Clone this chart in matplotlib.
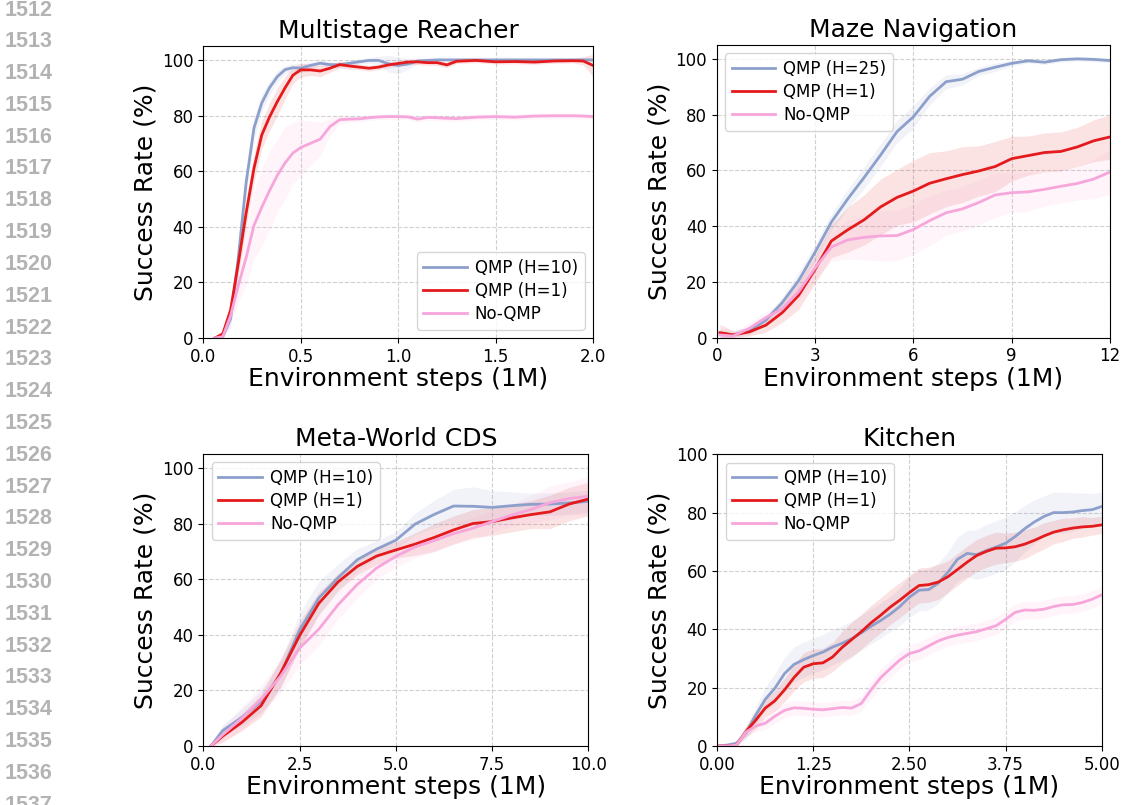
import numpy as np
import matplotlib.pyplot as plt

# colours of the three methods
C_LONG = '#8da0cb'
C_ONE = '#e41a1c'
C_NO = '#f7a6dc'

# ---------------- Multistage Reacher ----------------
reach_x = [0.06, 0.1, 0.14, 0.18, 0.22, 0.26, 0.3, 0.34, 0.38, 0.42, 0.46, 0.5,
           0.55, 0.6, 0.65, 0.7, 0.75, 0.8, 0.85, 0.9, 0.95, 1.0, 1.05, 1.1, 1.15,
           1.2, 1.25, 1.3, 1.4, 1.5, 1.6, 1.7, 1.8, 1.9, 1.95, 2.0]
reach_h10 = [0, 0.5, 7, 29, 56, 75.5, 84.5, 90, 94, 96.5, 97.2, 97, 98, 98.8, 98.3,
             98.2, 98.8, 99.3, 99.8, 99.8, 98.6, 98, 98.5, 99.6, 99.8, 100, 100, 100,
             100, 100, 100, 100, 100, 100, 100, 100]
reach_h10_sd = [0.5, 1, 3, 4, 4, 4, 3, 2.5, 2, 1.5, 1.5, 1.5, 1.2, 1, 1, 1, 1, 1, 1,
                1.5, 3, 3, 2, 1, 0.8, 0.5, 0.5, 0.5, 0.5, 0.5, 0.5, 0.5, 0.5, 0.5, 0.5, 0.5]
reach_h1 = [0, 1.5, 10, 27, 45, 61, 73, 79.5, 85, 90, 94.5, 96.4, 96.4, 96, 97, 98.3,
            97.8, 97.4, 97, 97.4, 98.2, 98.7, 99.2, 99.3, 99, 99, 98.2, 99.5, 99.8,
            99.3, 99.4, 99.2, 99.6, 99.7, 99.6, 98]
reach_h1_sd = [0.5, 1.5, 3, 4, 5, 5, 5, 5, 5, 4, 3, 2.5, 2, 2, 1.5, 1.2, 1.2, 1, 1,
               1, 1, 1, 1, 1, 1, 1, 1, 0.8, 0.8, 0.8, 0.8, 0.8, 0.8, 0.8, 1.5, 4]
reach_no = [0, 0.5, 8, 19, 29, 40.5, 47, 53, 58.5, 63, 66.5, 68.5, 70, 71.5, 76, 78.5,
            78.7, 78.8, 79.2, 79.5, 79.6, 79.6, 79.5, 78.7, 79.3, 79.2, 79, 78.9, 79.4,
            79.6, 79.4, 79.8, 79.9, 79.9, 79.8, 79.6]
reach_no_sd = [0.5, 1, 3, 6, 10, 12, 14, 14, 13, 13, 11, 10, 8, 6, 3, 1.5, 1, 1, 1,
               1, 1, 1, 1, 1, 1, 1, 1, 1, 1, 1, 1, 1, 1, 1, 1, 1]

# ---------------- Maze Navigation ----------------
maze_x = [0.1, 0.5, 1.0, 1.5, 2.0, 2.5, 3.0, 3.5, 4.0, 4.5, 5.0, 5.5, 6.0, 6.5, 7.0,
          7.5, 8.0, 8.5, 9.0, 9.5, 10.0, 10.5, 11.0, 11.5, 12.0]
maze_h25 = [1.6, 1.0, 2.5, 6.3, 12.6, 20.5, 30.6, 41.5, 49.8, 57.5, 65.5, 73.9, 79.2,
            86.6, 91.8, 92.7, 95.5, 97, 98.4, 99.3, 98.8, 99.7, 100, 99.8, 99.4]
maze_h25_sd = [1.5, 1.5, 1.5, 1.5, 2, 3, 3, 3, 3.5, 4, 4, 4, 4, 3, 2.5, 2, 1.5, 1.5,
               1, 0.8, 0.8, 0.8, 0.8, 0.8, 0.8]
maze_h1 = [1.8, 1.0, 2.1, 4.5, 9, 15.2, 24.5, 34.7, 38.7, 42.3, 46.9, 50.3, 52.6,
           55.4, 57, 58.5, 59.8, 61.4, 64.2, 65.3, 66.4, 66.8, 68.4, 70.6, 72]
maze_h1_sd = [3, 1.5, 1.5, 2.5, 3.5, 5, 5, 6, 8, 9, 10, 10, 11, 11, 10, 10, 9, 9, 8,
              7, 7, 7, 7, 7.5, 8]
maze_no = [1, 0.6, 3.4, 7.2, 10.4, 16.5, 25, 32.5, 35.1, 36, 36.5, 36.6, 38.8, 42,
           44.8, 46.2, 48.5, 51.2, 52, 52.3, 53.2, 54.3, 55.3, 56.9, 59.4]
maze_no_sd = [1, 1, 2, 2, 2, 3, 4, 5, 7, 8, 9, 9, 9, 9, 8, 8, 8, 8, 7, 7, 6, 6, 6,
              7, 8]

# ---------------- Meta-World CDS ----------------
mw_x = [0.2, 0.5, 1.0, 1.5, 2.0, 2.5, 3.0, 3.5, 4.0, 4.5, 5.0, 5.5, 6.0, 6.5, 7.0,
        7.5, 8.0, 8.5, 9.0, 9.5, 10.0]
mw_h10 = [0, 5.5, 10.3, 16, 25.6, 41.7, 53.2, 60.5, 67, 70.8, 74, 79.8, 83.3, 86.3,
          86.2, 85.8, 86.4, 86.9, 87, 87.4, 88]
mw_h10_sd = [0.5, 2, 3, 4, 5, 6, 6, 5, 4, 3, 3, 4, 5, 6, 7, 6, 5, 4, 4, 4, 4]
mw_h1 = [0, 3.5, 8.5, 14.5, 26, 39.7, 51.3, 59, 64.6, 68.3, 70.5, 72.6, 75, 77.7, 80,
         80.7, 82, 83.2, 84.2, 87, 88.8]
mw_h1_sd = [0.5, 2, 3, 4, 5, 5, 4, 3, 3, 3, 3, 4, 5, 5, 5, 5, 5, 5, 6, 6, 6]
mw_no = [0, 4, 10, 16.8, 25, 35.2, 42, 50.8, 58.1, 64, 68.2, 71.6, 73.9, 76.4, 78.3,
         80.7, 83, 85, 87.5, 89, 89.8]
mw_no_sd = [0.5, 3, 4, 5, 6, 6, 6, 5, 5, 4, 4, 4, 4, 4, 4, 4, 4, 5, 6, 6, 7]

# ---------------- Kitchen ----------------
kit_x = [0, 0.125, 0.25, 0.375, 0.5, 0.625, 0.75, 0.875, 1.0, 1.125, 1.25, 1.375,
         1.5, 1.625, 1.75, 1.875, 2.0, 2.125, 2.25, 2.375, 2.5, 2.625, 2.75, 2.875,
         3.0, 3.125, 3.25, 3.375, 3.5, 3.625, 3.75, 3.875, 4.0, 4.125, 4.25, 4.375,
         4.5, 4.625, 4.75, 4.875, 5.0]
kit_h10 = [0, 0.3, 0.9, 4.5, 10.5, 16, 19.8, 24.8, 28, 29.6, 31, 32.2, 33.9, 35.2,
           36.8, 38.8, 41, 43, 45.2, 47.8, 51, 53.4, 53.6, 55.8, 59.6, 64, 66, 65.6,
           67, 68.2, 69.5, 71.8, 74.5, 76.8, 78.7, 80, 80, 80.2, 80.7, 81, 82.1]
kit_h10_sd = [0.3, 0.5, 1, 2, 3, 4, 5, 5.5, 6, 6, 6, 6, 6, 6, 6, 6, 6, 6, 6, 6.5, 7,
              7, 7, 7, 7, 7.5, 8, 8.5, 9, 9, 9, 8.5, 8, 7.5, 7, 7, 7, 6.5, 6, 5.5, 5]
kit_h1 = [0, 0, 0.3, 5, 8.8, 13, 15.5, 19.2, 23.5, 27, 28.2, 28.5, 30.5, 33.8, 36.5,
          39.2, 42.2, 44.8, 47.6, 50, 52.6, 55, 55.3, 56.2, 58, 60.5, 63, 65.3, 66.7,
          67.8, 67.9, 68.3, 69.2, 70.5, 72, 73.3, 74.1, 74.7, 75.1, 75.3, 75.8]
kit_h1_sd = [0.3, 0.5, 1, 2, 3, 3, 3.5, 4, 4.5, 5, 5, 5, 5, 5.5, 6, 6, 6, 6, 6, 6, 6,
             6, 6, 6, 5.5, 5.5, 5.5, 5.5, 5.5, 5.5, 5, 5, 5, 4.5, 4.5, 4, 4, 3.5, 3.5,
             3, 3]
kit_no = [0, 0, 0.3, 4.8, 6.8, 7.8, 10.2, 12.2, 13.1, 12.9, 12.6, 12.4, 12.8, 13.2,
          13, 14.6, 19.2, 23.4, 26.5, 29.5, 31.7, 32.6, 34.3, 36, 37.2, 38, 38.6, 39.2,
          40.2, 41.2, 43.4, 45.8, 46.6, 46.5, 46.9, 47.8, 48.4, 48.5, 49.2, 50.3, 51.8]
kit_no_sd = [0.3, 0.3, 0.5, 1.5, 2, 2, 2.5, 2.5, 2.5, 2.5, 2.5, 2.5, 2.5, 2.5, 2.5,
             2.5, 3, 3, 3, 3, 3, 3, 3, 3, 3, 3, 3, 3, 3, 3, 3, 3, 3, 3, 3, 3, 3, 3, 3,
             3, 3]

line_numbers = list(range(1512, 1538))

fig = plt.figure(figsize=(11.22, 8.05), dpi=100)

panels = [
    # title, rect, x, series, xlim, xticks, ylim, legend loc, long-horizon label
    ('Multistage Reacher', [0.1812, 0.5801, 0.3473, 0.3628], reach_x,
     [(reach_h10, reach_h10_sd), (reach_h1, reach_h1_sd), (reach_no, reach_no_sd)],
     (0, 2.0), [0.0, 0.5, 1.0, 1.5, 2.0], 105, 'lower right', 'QMP (H=10)'),
    ('Maze Navigation', [0.6388, 0.5805, 0.3505, 0.3637], maze_x,
     [(maze_h25, maze_h25_sd), (maze_h1, maze_h1_sd), (maze_no, maze_no_sd)],
     (0, 12), [0, 3, 6, 9, 12], 105, 'upper left', 'QMP (H=25)'),
    ('Meta-World CDS', [0.1812, 0.0733, 0.3432, 0.3627], mw_x,
     [(mw_h10, mw_h10_sd), (mw_h1, mw_h1_sd), (mw_no, mw_no_sd)],
     (0, 10.0), [0.0, 2.5, 5.0, 7.5, 10.0], 105, 'upper left', 'QMP (H=10)'),
    ('Kitchen', [0.6392, 0.0733, 0.3427, 0.3624], kit_x,
     [(kit_h10, kit_h10_sd), (kit_h1, kit_h1_sd), (kit_no, kit_no_sd)],
     (0, 5.0), [0.0, 1.25, 2.5, 3.75, 5.0], 100, 'upper left', 'QMP (H=10)'),
]

colors = [C_LONG, C_ONE, C_NO]

for title, rect, x, series, xlim, xticks, ytop, loc, long_label in panels:
    ax = fig.add_axes(rect)
    x = np.array(x)
    labels = [long_label, 'QMP (H=1)', 'No-QMP']
    # shaded bands first, lines on top
    for (mean, sd), col in zip(series, colors):
        mean = np.array(mean)
        sd = np.array(sd)
        ax.fill_between(x, np.clip(mean - sd, 0, None), mean + sd,
                        color=col, alpha=0.12, linewidth=0)
    handles = []
    for (mean, sd), col, lab in zip(series, colors, labels):
        h, = ax.plot(x, mean, color=col, lw=2.0, label=lab)
        handles.append(h)
    ax.set_xlim(*xlim)
    ax.set_ylim(0, ytop)
    ax.set_xticks(xticks)
    ax.set_yticks([0, 20, 40, 60, 80, 100])
    ax.tick_params(labelsize=12)
    ax.grid(True, linestyle='--', color='#d0d0d0', linewidth=0.8)
    ax.set_axisbelow(True)
    ax.set_title(title, fontsize=18)
    ax.set_xlabel('Environment steps (1M)', fontsize=18, labelpad=1)
    ax.set_ylabel('Success Rate (%)', fontsize=18, labelpad=3)
    ax.legend(handles=handles, loc=loc, fontsize=12, handlelength=2.6,
              handletextpad=0.5, labelspacing=0.3)

# page line numbers of the paper on the left margin
for i, n in enumerate(line_numbers):
    fig.text(29 / 1122, 1 - (10 + i * 31.8) / 805, str(n), ha='center', va='center',
             fontsize=15.5, fontweight='bold', color='#b3b3b3',
             family='Liberation Sans')

fig.savefig('out.png', dpi=100)
